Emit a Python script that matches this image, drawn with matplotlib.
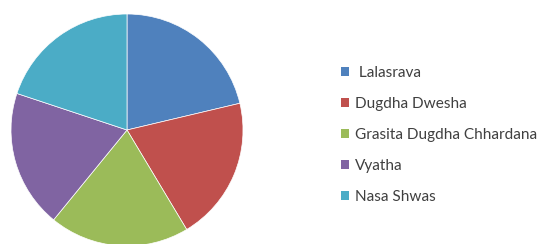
import matplotlib
matplotlib.use("Agg")
import matplotlib.pyplot as plt
from matplotlib.patches import Patch

labels = [" Lalasrava", "Dugdha Dwesha", "Grasita Dugdha Chhardana", "Vyatha", "Nasa Shwas"]
values = [21.3, 20.1, 19.5, 19.2, 19.9]
colors = ["#4F81BD", "#C0504D", "#9BBB59", "#8064A2", "#4BACC6"]

plt.rcParams['font.family'] = ['Lato', 'DejaVu Sans']

W, H = 541, 244
fig = plt.figure(figsize=(W / 100, H / 100), dpi=100)
fig.patch.set_facecolor("white")

cx, cy, r = 127, 130, 116
ax = fig.add_axes([(cx - r) / W, (H - cy - r) / H, 2 * r / W, 2 * r / H])
ax.pie(values, colors=colors, startangle=90, counterclock=False,
       wedgeprops=dict(linewidth=0.5, edgecolor="white"))
ax.set_xlim(-1, 1)
ax.set_ylim(-1, 1)
ax.set_aspect("equal")
ax.axis("off")

handles = [Patch(facecolor=c, edgecolor="none") for c in colors]
fig.legend(handles, labels, loc="upper left", bbox_to_anchor=(341 / W, 1 - 66 / H),
           frameon=False, fontsize=11.1, handlelength=0.5, handleheight=0.5,
           handletextpad=0.4, labelspacing=1.1, borderpad=0, borderaxespad=0,
           labelcolor="#404040")

fig.savefig("out.png", dpi=100)
